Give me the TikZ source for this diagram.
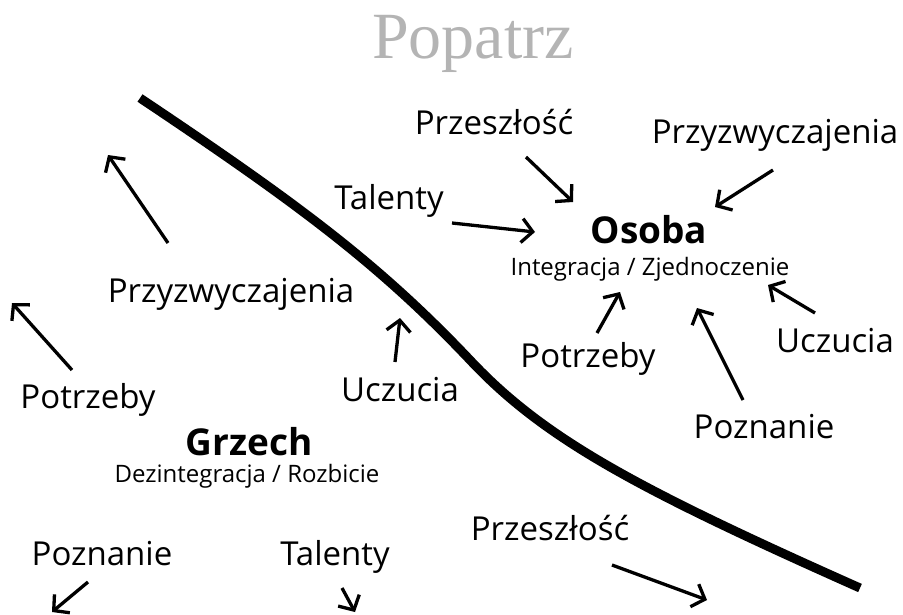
\documentclass[tikz,border=0pt]{standalone}
\usepackage{fontspec}
\setmainfont{Open Sans}
\newfontfamily\tytulfont{Liberation Serif}
\usetikzlibrary{arrows.meta}
\definecolor{szary}{RGB}{180,180,180}
\tikzset{
	etykieta/.style={anchor=base,inner sep=0pt,font=\fontsize{33}{36}\selectfont},
	glowny/.style={anchor=base,inner sep=0pt,font=\fontsize{37}{40}\selectfont\bfseries},
	podpis/.style={anchor=base,inner sep=0pt,font=\fontsize{24}{28}\selectfont},
	strzalka/.style={line width=3.3pt,-{Straight Barb[length=11pt,width=24pt,line width=3.3pt]}},
}
\begin{document}
\begin{tikzpicture}[x=1pt,y=-1pt]
	\useasboundingbox (0,0) rectangle (903,614);
	\node[anchor=base,inner sep=0pt,text=szary,font=\fontsize{66}{70}\selectfont\tytulfont] (tytul) at (473,58) {Popatrz};
	% granica
	\draw[line width=9pt] (140,98) .. controls (300,205) and (380,265) .. (470,360)
		.. controls (545,440) and (640,490) .. (860,588);
	% strona prawa <<< Osoba
	\node[glowny] (osoba) at (649,243) {Osoba};
	\node[podpis] (integr) at (650,275) {Integracja / Zjednoczenie};
	\node[etykieta] (przesz1) at (494,134) {Przeszłość};
	\node[etykieta] (przyzw1) at (775,143) {Przyzwyczajenia};
	\node[etykieta] (talent1) at (389,209) {Talenty};
	\node[etykieta] (potrz1) at (588,367) {Potrzeby};
	\node[etykieta] (uczuc1) at (835,352) {Uczucia};
	\node[etykieta] (pozn1) at (764,438) {Poznanie};
	% strona lewa <<< Grzech
	\node[glowny] (grzech) at (249,455) {Grzech};
	\node[podpis] (dezint) at (247,482) {Dezintegracja / Rozbicie};
	\node[etykieta] (przyzw2) at (231,302) {Przyzwyczajenia};
	\node[etykieta] (uczuc2) at (400,401) {Uczucia};
	\node[etykieta] (potrz2) at (88,408) {Potrzeby};
	\node[etykieta] (pozn2) at (102,565) {Poznanie};
	\node[etykieta] (talent2) at (335,565) {Talenty};
	\node[etykieta] (przesz2) at (550,540) {Przeszłość};
	% konce strzalek
	\coordinate (p1) at (526,157); \coordinate (k1) at (573,202);
	\coordinate (p2) at (773,170); \coordinate (k2) at (715,207);
	\coordinate (p3) at (452,223); \coordinate (k3) at (535,232);
	\coordinate (p4) at (597,333); \coordinate (k4) at (620,292);
	\coordinate (p5) at (743,400); \coordinate (k5) at (697,308);
	\coordinate (p6) at (815,313); \coordinate (k6) at (768,285);
	\coordinate (p7) at (168,243); \coordinate (k7) at (108,155);
	\coordinate (p8) at (72,370);  \coordinate (k8) at (12,303);
	\coordinate (p9) at (395,362); \coordinate (k9) at (400,318);
	\coordinate (p10) at (88,582); \coordinate (k10) at (52,612);
	\coordinate (p11) at (342,588); \coordinate (k11) at (355,612);
	\coordinate (p12) at (612,565); \coordinate (k12) at (707,600);
	\foreach \i in {1,...,12}
		\draw[strzalka] (p\i)--(k\i);
\end{tikzpicture}
\end{document}
